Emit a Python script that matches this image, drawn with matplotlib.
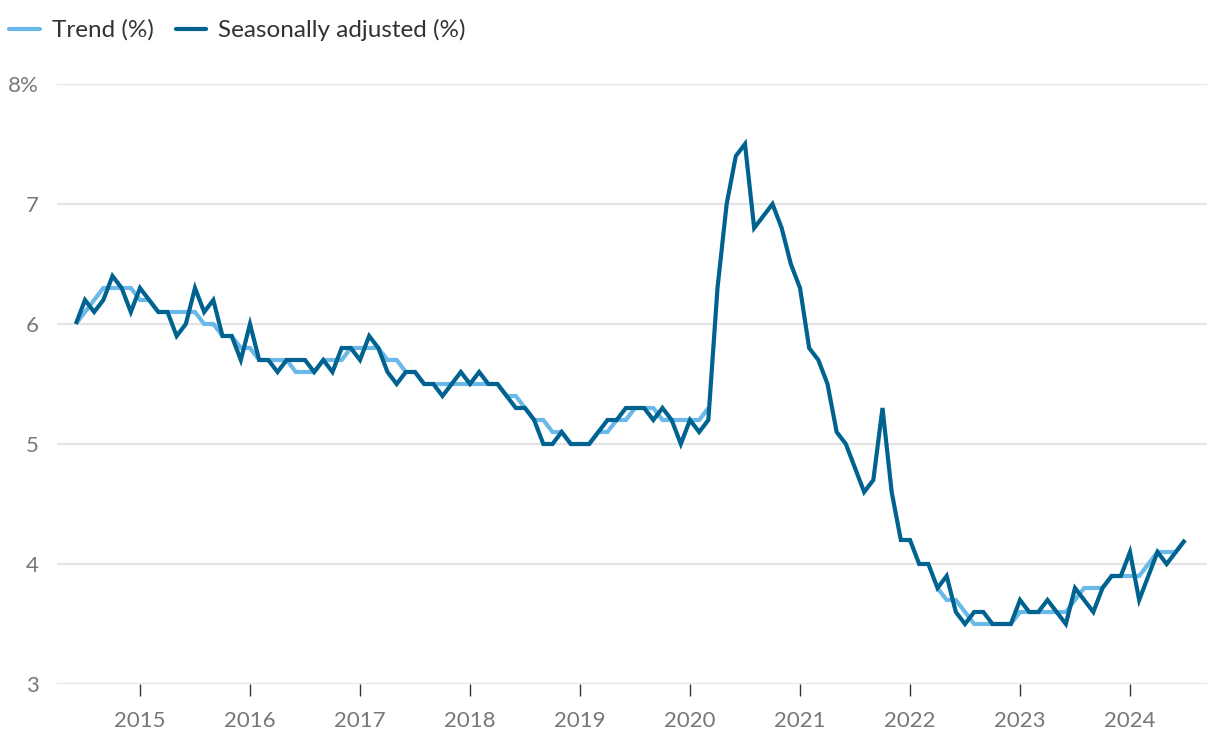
import numpy as np
import matplotlib
matplotlib.use("Agg")
import matplotlib.pyplot as plt

plt.rcParams['font.family'] = ['Lato', 'DejaVu Sans']

nan = np.nan
start_year = 2014
start_month = 6  # June 2014

seasonally_adjusted = [
    6.0, 6.2, 6.1, 6.2, 6.4, 6.3, 6.1,
    6.3, 6.2, 6.1, 6.1, 5.9, 6.0, 6.3, 6.1, 6.2, 5.9, 5.9, 5.7,
    6.0, 5.7, 5.7, 5.6, 5.7, 5.7, 5.7, 5.6, 5.7, 5.6, 5.8, 5.8,
    5.7, 5.9, 5.8, 5.6, 5.5, 5.6, 5.6, 5.5, 5.5, 5.4, 5.5, 5.6,
    5.5, 5.6, 5.5, 5.5, 5.4, 5.3, 5.3, 5.2, 5.0, 5.0, 5.1, 5.0,
    5.0, 5.0, 5.1, 5.2, 5.2, 5.3, 5.3, 5.3, 5.2, 5.3, 5.2, 5.0,
    5.2, 5.1, 5.2, 6.3, 7.0, 7.4, 7.5, 6.8, 6.9, 7.0, 6.8, 6.5,
    6.3, 5.8, 5.7, 5.5, 5.1, 5.0, 4.8, 4.6, 4.7, 5.3, 4.6, 4.2,
    4.2, 4.0, 4.0, 3.8, 3.9, 3.6, 3.5, 3.6, 3.6, 3.5, 3.5, 3.5,
    3.7, 3.6, 3.6, 3.7, 3.6, 3.5, 3.8, 3.7, 3.6, 3.8, 3.9, 3.9,
    4.1, 3.7, 3.9, 4.1, 4.0, 4.1, 4.2,
]

trend = [
    6.0, 6.1, 6.2, 6.3, 6.3, 6.3, 6.3,
    6.2, 6.2, 6.1, 6.1, 6.1, 6.1, 6.1, 6.0, 6.0, 5.9, 5.9, 5.8,
    5.8, 5.7, 5.7, 5.7, 5.7, 5.6, 5.6, 5.6, 5.7, 5.7, 5.7, 5.8,
    5.8, 5.8, 5.8, 5.7, 5.7, 5.6, 5.6, 5.5, 5.5, 5.5, 5.5, 5.5,
    5.5, 5.5, 5.5, 5.5, 5.4, 5.4, 5.3, 5.2, 5.2, 5.1, 5.1, 5.0,
    5.0, 5.0, 5.1, 5.1, 5.2, 5.2, 5.3, 5.3, 5.3, 5.2, 5.2, 5.2,
    5.2, 5.2, 5.3, nan, nan, nan, nan, nan, nan, nan, nan, nan,
    nan, nan, nan, nan, nan, nan, nan, nan, nan, nan, nan, nan,
    nan, nan, nan, 3.8, 3.7, 3.7, 3.6, 3.5, 3.5, 3.5, 3.5, 3.5,
    3.6, 3.6, 3.6, 3.6, 3.6, 3.6, 3.7, 3.8, 3.8, 3.8, 3.9, 3.9,
    3.9, 3.9, 4.0, 4.1, 4.1, 4.1, 4.2,
]

year_ticks = [2015, 2016, 2017, 2018, 2019, 2020, 2021, 2022, 2023, 2024]
y_ticks = [3, 4, 5, 6, 7, 8]
y_tick_labels = ["3", "4", "5", "6", "7", "8%"]

n = len(seasonally_adjusted)
x = np.array([start_year + (start_month - 1 + i) / 12.0 for i in range(n)])

LIGHT = "#6ab9e9"
DARK = "#00628f"

W, H = 1220, 748
fig = plt.figure(figsize=(W / 100, H / 100), dpi=100)
ax = fig.add_axes([57 / W, 64 / H, (1207 - 57) / W, 600 / H])

ax.plot(x, trend, color=LIGHT, lw=3.0, solid_joinstyle='miter', solid_capstyle='butt',
        label="Trend (%)", zorder=3)
ax.plot(x, seasonally_adjusted, color=DARK, lw=3.0, solid_joinstyle='miter',
        solid_capstyle='butt', label="Seasonally adjusted (%)", zorder=4)

ax.set_xlim(2014.2455, 2024.70)
ax.set_ylim(3, 8)
ax.set_yticks(y_ticks)
ax.set_yticklabels(y_tick_labels)
ax.set_xticks(year_ticks)
ax.set_xticklabels([str(y) for y in year_ticks])

ax.grid(axis='y', color='#e3e3e3', lw=1.5, zorder=0)
ax.set_axisbelow(True)
for s in ax.spines.values():
    s.set_visible(False)

ax.tick_params(axis='y', length=0, pad=13, labelsize=16, labelcolor='#777777')
ax.tick_params(axis='x', length=8.5, width=1.0, color='#333333', pad=11,
               labelsize=16, labelcolor='#777777')

leg = fig.legend(loc='center left', bbox_to_anchor=(2 / W, 1 - 30 / H), ncol=2,
                 frameon=False, fontsize=17.5, handlelength=1.25, handletextpad=0.5,
                 columnspacing=0.9, borderaxespad=0.0, borderpad=0.3)
for t in leg.get_texts():
    t.set_color('#333333')
for h in leg.get_lines():
    h.set_solid_capstyle('round')
    h.set_linewidth(3.0)

fig.savefig("out.png", dpi=100)
